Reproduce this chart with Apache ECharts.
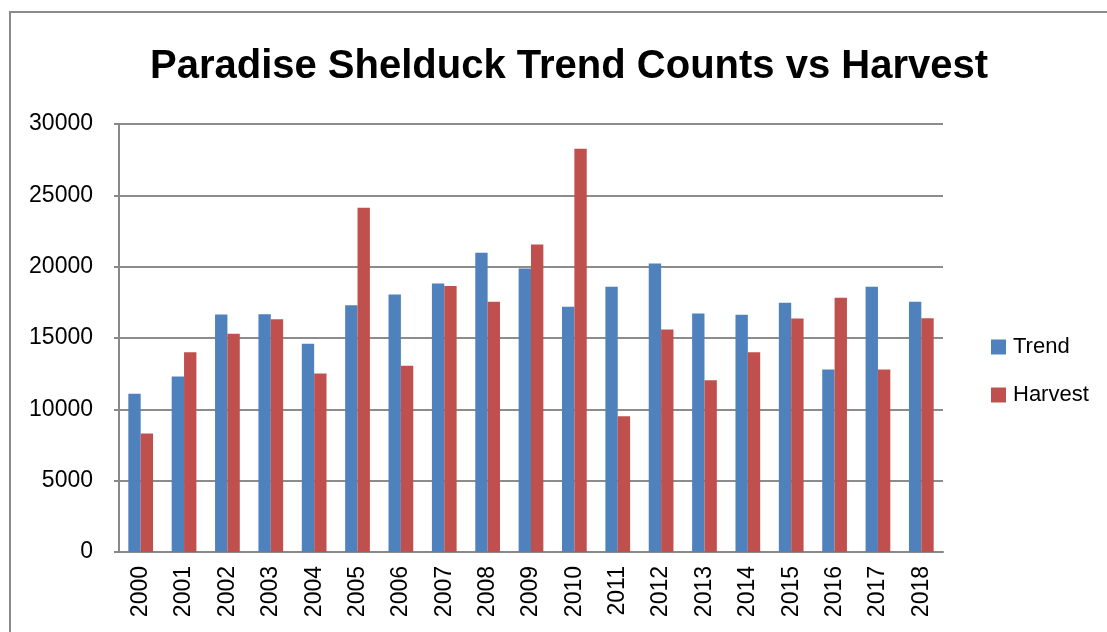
<!DOCTYPE html>
<html>
<head>
<meta charset="utf-8">
<script src="https://cdn.jsdelivr.net/npm/echarts@6/dist/echarts.min.js"></script>
<style>
  html, body { margin: 0; padding: 0; background: #fff; overflow: hidden; }
  #frame {
    position: absolute; left: 9px; top: 11px; width: 1200px; height: 700px;
    border: 2px solid #8a8a8a; box-sizing: border-box;
  }
  #chart { position: absolute; left: 0; top: 0; width: 1107px; height: 632px; }
</style>
</head>
<body>
<div id="frame"></div>
<div id="chart"></div>
<script>
const years = ['2000', '2001', '2002', '2003', '2004', '2005', '2006', '2007', '2008', '2009',
  '2010', '2011', '2012', '2013', '2014', '2015', '2016', '2017', '2018']
const trend = [11100, 12300, 16650, 16670, 14590, 17300, 18050, 18820, 20970, 19880,
  17190, 18590, 20230, 16720, 16630, 17470, 12790, 18590, 17540]
const harvest = [8300, 14000, 15290, 16320, 12510, 24130, 13050, 18640, 17540, 21560,
  28270, 9520, 15600, 12040, 14000, 16370, 17820, 12790, 16390]

const chart = echarts.init(document.getElementById('chart'))

const labelFont = 'Liberation Sans'

chart.setOption({
  animation: false,
  title: {
    text: 'Paradise Shelduck Trend Counts vs Harvest',
    left: 564,
    top: 42,
    textAlign: 'center',
    textStyle: { fontFamily: labelFont, fontWeight: 'bold', fontSize: 40, color: '#000' },
  },
  legend: {
    orient: 'vertical',
    left: 986,
    top: 331,
    itemWidth: 15,
    itemHeight: 15,
    itemGap: 26,
    icon: 'rect',
    textStyle: { fontFamily: labelFont, fontSize: 22, color: '#000', padding: [0, 0, 0, 2] },
    data: ['Trend', 'Harvest'],
  },
  grid: { left: 119, top: 124, right: 164, bottom: 80 },
  xAxis: {
    type: 'category',
    data: years,
    axisLine: { lineStyle: { color: '#888', width: 2 } },
    axisTick: { show: false },
    axisLabel: {
      rotate: 90, margin: 14, color: '#000', fontFamily: labelFont, fontSize: 23,
    },
  },
  yAxis: {
    type: 'value',
    min: 0,
    max: 30000,
    interval: 5000,
    axisLine: { show: true, lineStyle: { color: '#888', width: 2 } },
    axisTick: { show: true, length: 5, lineStyle: { color: '#888', width: 2 } },
    splitLine: { lineStyle: { color: '#8c8c8c', width: 2 } },
    axisLabel: {
      margin: 26, color: '#000', fontFamily: labelFont, fontSize: 23,
      formatter: (v) => String(v),
    },
  },
  series: [
    {
      name: 'Trend', type: 'bar', data: trend,
      itemStyle: { color: '#4F81BD' },
      barGap: '0%', barCategoryGap: '43%',
    },
    {
      name: 'Harvest', type: 'bar', data: harvest,
      itemStyle: { color: '#C0504D' },
    },
  ],
})
</script>
</body>
</html>
